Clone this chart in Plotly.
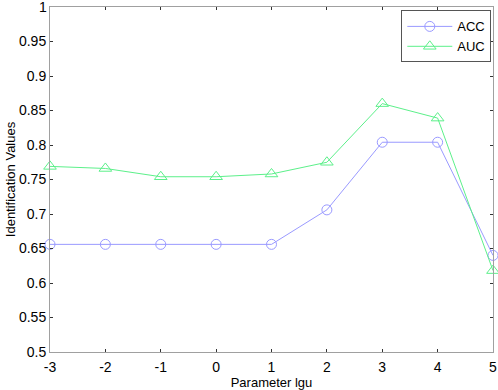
import plotly.graph_objects as go

x_vals = [-3, -2, -1, 0, 1, 2, 3, 4, 5]
acc = [0.656, 0.656, 0.656, 0.656, 0.656, 0.706, 0.804, 0.804, 0.640]
auc = [0.769, 0.766, 0.754, 0.754, 0.758, 0.775, 0.860, 0.839, 0.618]
y_ticks = [0.5, 0.55, 0.6, 0.65, 0.7, 0.75, 0.8, 0.85, 0.9, 0.95, 1]
y_labels = ["0.5", "0.55", "0.6", "0.65", "0.7", "0.75", "0.8", "0.85", "0.9", "0.95", "1"]

fig = go.Figure()
fig.add_trace(go.Scatter(
    x=x_vals, y=acc, name="ACC", mode="lines+markers", cliponaxis=False,
    line=dict(color="#9a9aff", width=1),
    marker=dict(symbol="circle-open", size=10, color="#9a9aff", line=dict(width=1)),
))
fig.add_trace(go.Scatter(
    x=x_vals, y=auc, name="AUC", mode="lines+markers", cliponaxis=False,
    line=dict(color="#5cf08a", width=1),
    marker=dict(symbol="triangle-up-open", size=11, color="#5cf08a", line=dict(width=1)),
))

axis_common = dict(
    showgrid=False, zeroline=False, showline=True, linecolor="#a0a0a0", linewidth=1,
    mirror="allticks", ticks="inside", ticklen=3, tickcolor="#333333", tickwidth=1,
    tickfont=dict(family="Liberation Sans, Arial", size=14, color="black"),
    automargin=False,
)

fig.update_layout(
    width=498, height=390,
    margin=dict(l=50, r=5, t=7, b=38),
    paper_bgcolor="white", plot_bgcolor="white",
    font=dict(family="Liberation Sans, Arial", size=13, color="black"),
    xaxis=dict(range=[-3, 5], tickvals=x_vals, ticktext=[str(v) for v in x_vals],
               title=dict(text="Parameter lgu", standoff=0, font=dict(size=13)),
               ticklabelstandoff=2, **axis_common),
    yaxis=dict(range=[0.5, 1], tickvals=y_ticks, ticktext=y_labels[:-1] + [""],
               title=dict(text="Identification Values", standoff=0, font=dict(size=13)),
               ticklabelstandoff=0, **axis_common),
    legend=dict(x=0.793, y=0.99, xanchor="left", yanchor="top",
                bordercolor="#555555", borderwidth=1, bgcolor="white",
                font=dict(size=13), itemwidth=45, tracegroupgap=0),
    showlegend=True,
)

# top tick label drawn as an annotation (plotly drops it at the paper edge)
fig.add_annotation(
    xref="paper", x=0, yref="y", y=y_ticks[-1], text=y_labels[-1],
    showarrow=False, xanchor="right", yanchor="middle", xshift=-1,
    font=dict(family="Liberation Sans, Arial", size=14, color="black"),
)

fig.write_html("out.html", config={"displayModeBar": False},
               post_script="document.body.style.margin='0';document.body.style.overflow='hidden';")
